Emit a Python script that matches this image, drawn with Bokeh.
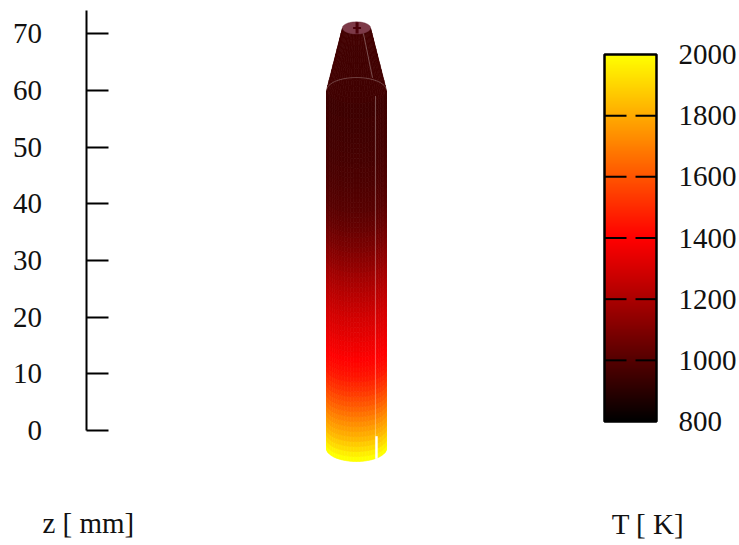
import numpy as np
from bokeh.plotting import figure
from bokeh.models import (ColumnDataSource, LinearAxis, FixedTicker, Range1d,
                          LinearColorMapper)
from bokeh.core.properties import value
from bokeh.embed import file_html
from bokeh.resources import INLINE

# ---- data -----------------------------------------------------------------
z_ticks = [0, 10, 20, 30, 40, 50, 60, 70]
T_ticks = [800, 1000, 1200, 1400, 1600, 1800, 2000]
z_label = "z [ mm]"
T_label = "T [ K]"

# temperature of each ring of the shaft, bottom to top
T_shaft = [2000, 1960, 1915, 1875, 1835, 1800, 1770, 1735, 1700, 1668, 1635, 1605,
           1575, 1545, 1515, 1490, 1465, 1445, 1430, 1415, 1400, 1385, 1370, 1358,
           1345, 1333, 1321, 1309, 1297, 1285, 1272, 1258, 1244, 1230, 1216, 1202,
           1188, 1172, 1155, 1140, 1126, 1112, 1098, 1085, 1072, 1060, 1048, 1036,
           1026, 1018, 1010, 1004, 998, 993, 988, 984, 980, 977, 974, 971,
           968, 965, 962, 960, 958, 956, 954, 952, 950, 949, 948, 947]
# temperature of each ring of the cone, bottom to top
T_cone = [950, 950, 951, 951, 952, 952, 953, 953, 954, 954, 955, 955]

# geometry, in mm of the z axis
Z_BOTTOM, Z_SHAFT_TOP, Z_TIP = -3.17, 59.96, 71.0
R_SHAFT, R_TIP = 5.29, 2.47
TILT = 0.433
N_COLS = 30

palette = []
for i in range(128):
    palette.append("#%02x0000" % int(round(i * 255 / 127)))
for i in range(128):
    palette.append("#ff%02x00" % int(round(i * 255 / 127)))
mapper = LinearColorMapper(palette=palette, low=800, high=2000)

PX = 5.67
p = figure(width=739, height=545, output_backend="svg", toolbar_location=None,
           x_axis_type=None, y_axis_type=None, min_border=0,
           x_range=Range1d((0 - 356) / PX, (739 - 356) / PX),
           y_range=Range1d((430 - 545) / PX, (430 - 0) / PX),
           outline_line_color=None)
p.grid.visible = False
p.background_fill_color = "white"

# second scale for the temperature bar
p.extra_y_ranges = {"T": Range1d(800 - (545 - 421) / 367 * 1200, 800 + (421 - 0) / 367 * 1200)}


def ring_cells(zs, rs, temps):
    xs, ys, ts = [], [], []
    th = np.linspace(-np.pi / 2, np.pi / 2, N_COLS + 1)
    for k, t in enumerate(temps):
        for j in range(N_COLS):
            a, b = th[j], th[j + 1]
            xs.append([rs[k] * np.sin(a), rs[k] * np.sin(b),
                       rs[k + 1] * np.sin(b), rs[k + 1] * np.sin(a)])
            ys.append([zs[k] - TILT * rs[k] * np.cos(a), zs[k] - TILT * rs[k] * np.cos(b),
                       zs[k + 1] - TILT * rs[k + 1] * np.cos(b), zs[k + 1] - TILT * rs[k + 1] * np.cos(a)])
            ts.append(t)
    return dict(xs=xs, ys=ys, T=ts)


# cone first, shaft over it
cone_z = np.linspace(Z_SHAFT_TOP, Z_TIP, len(T_cone) + 1)
cone_r = np.linspace(R_SHAFT, R_TIP, len(T_cone) + 1)
shaft_z = np.linspace(Z_BOTTOM, Z_SHAFT_TOP, len(T_shaft) + 1)
shaft_r = np.full(len(T_shaft) + 1, R_SHAFT)
for zs, rs, ts in ((cone_z, cone_r, T_cone), (shaft_z, shaft_r, T_shaft)):
    src = ColumnDataSource(ring_cells(zs, rs, ts))
    p.patches("xs", "ys", source=src,
              fill_color={"field": "T", "transform": mapper},
              line_color={"field": "T", "transform": mapper}, line_width=0.7)

# tip cap
ang = np.linspace(0, 2 * np.pi, 49)
p.patch(R_TIP * np.cos(ang), Z_TIP + TILT * R_TIP * np.sin(ang),
        fill_color="#7d3a48", line_color="#6a2a38", line_width=0.5)
p.segment([0.1], [Z_TIP - 1.0], [0.1], [Z_TIP + 1.0], line_color="#4a0008", line_width=3)
p.segment([-0.6], [Z_TIP], [0.8], [Z_TIP], line_color="#4a0008", line_width=2)

# back edge of the shaft top seen through the surface
back = np.linspace(-np.pi / 2, np.pi / 2, 41)
p.line(R_SHAFT * np.sin(back), Z_SHAFT_TOP + TILT * R_SHAFT * np.cos(back),
       line_color="white", line_alpha=0.25, line_width=1)

# seams
seam_x = 3.35
p.segment([seam_x], [59], [seam_x], [-1.0], line_color="white", line_alpha=0.3, line_width=1)
p.segment([seam_x + 0.17], [-1.0], [seam_x + 0.17], [-5.0], line_color="white", line_width=2.5)
p.segment([1.23], [70.0], [2.82], [62.2], line_color="white", line_alpha=0.3, line_width=1)

# temperature bar
BAR_L, BAR_R = 43.74, 52.91
bar = np.linspace(800, 2000, 256).reshape(-1, 1)
p.image(image=[bar], x=BAR_L, y=800, dw=BAR_R - BAR_L, dh=1200, color_mapper=mapper,
        y_range_name="T")
p.quad(left=[BAR_L], right=[BAR_R], bottom=[800], top=[2000], fill_color=None,
       line_color="black", line_width=2.5, y_range_name="T")
inner = T_ticks[1:-1]
p.segment([BAR_L] * 5, inner, [BAR_L + 3.88] * 5, inner, line_color="black", line_width=2,
          y_range_name="T")
p.segment([BAR_R - 3.7] * 5, inner, [BAR_R] * 5, inner, line_color="black", line_width=2,
          y_range_name="T")

FONT = "Liberation Serif"
FS = "29px"

z_axis = LinearAxis(fixed_location=-47.7, bounds=(0, 74.1), ticker=FixedTicker(ticks=z_ticks),
                    major_tick_in=22, major_tick_out=0, minor_tick_line_color=None,
                    major_tick_line_width=2, axis_line_width=2,
                    major_label_standoff=44, major_label_text_font=FONT,
                    major_label_text_font_size=FS, major_label_text_color="#111111")
p.add_layout(z_axis, "left")

T_axis = LinearAxis(fixed_location=BAR_R, y_range_name="T", ticker=FixedTicker(ticks=T_ticks),
                    major_tick_in=0, major_tick_out=0, minor_tick_line_color=None,
                    axis_line_color=None, major_label_standoff=22, major_label_text_font=FONT,
                    major_label_text_font_size=FS, major_label_text_color="#111111")
p.add_layout(T_axis, "right")

p.text([-55.4], [-16.3], text=[z_label], text_font=value(FONT), text_font_size=FS,
       text_baseline="middle", text_align="left", text_color="#111111")
p.text([45.0], [-16.5], text=[T_label], text_font=value(FONT), text_font_size=FS,
       text_baseline="middle", text_align="left", text_color="#111111")

open("out.html", "w").write(file_html(p, INLINE))
